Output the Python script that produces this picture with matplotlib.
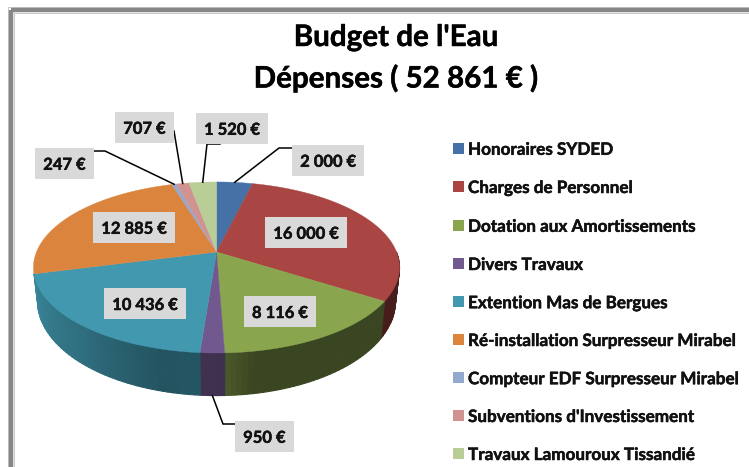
import matplotlib

matplotlib.use("Agg")
import matplotlib.pyplot as plt
import matplotlib.patheffects as pe
import numpy as np
from matplotlib.collections import PolyCollection
from matplotlib.patches import Polygon, Rectangle

plt.rcParams["font.family"] = ["Lato", "DejaVu Sans"]

categories = [
    "Honoraires SYDED",
    "Charges de Personnel",
    "Dotation aux Amortissements",
    "Divers Travaux",
    "Extention Mas de Bergues",
    "Ré-installation Surpresseur Mirabel",
    "Compteur EDF Surpresseur Mirabel",
    "Subventions d'Investissement",
    "Travaux Lamouroux Tissandié",
]
values = [2000, 16000, 8116, 950, 10436, 12885, 247, 707, 1520]
value_labels = ["2 000 €", "16 000 €", "8 116 €", "950 €", "10 436 €", "12 885 €", "247 €", "707 €", "1 520 €"]
colors = ["#4571a6", "#a94543", "#89a54e", "#71588f", "#4198af", "#db843d", "#93a9cf", "#d19392", "#b9cd96"]

# label box centre and width in pixels, None when the slice has no leader line
box_centres = [(328, 160.3), (306, 232.3), (280, 311.5), (264.3, 436.3), (145, 303.5), (134, 227.3), (64.3, 163.3), (144.3, 127.3), (232, 128.3)]
box_widths = [72, 82, 72, 59, 82, 82, 59, 59, 72]
leader_bends = [
    [(279, 148), (292, 148)],
    None,
    None,
    [(223, 424), (235, 424)],
    None,
    None,
    [(105, 151), (94, 151)],
    [(174, 131)],
    [(207, 144), (220, 144)],
]
legend_y = [148.3, 186.5, 225.3, 263.5, 301.7, 339.5, 377.7, 415.5, 453.5]

# perspective of the disc, in pixels
CX = 216.5
CY = 252
TILT = 0.181

# the reference text is a little heavier than Lato Bold
HEAVY = [pe.withStroke(linewidth=0.35, foreground="#111111")]


def top_point(angle):
    # angle clockwise from 12 o'clock
    u, v = np.sin(angle), np.cos(angle)
    w = 1 + TILT * v
    return CX + 180 * u / w, CY - 82.7 * v / w


def bottom_point(angle):
    u, v = np.sin(angle), np.cos(angle)
    w = 1 + TILT * v
    return CX + 176 * u / w, 284 - 91.4 * v / w


def wall_shade(angle):
    deg = np.degrees(angle)
    return np.interp(deg, [90, 125, 170, 178, 187, 195, 220, 256], [0.44, 0.42, 0.42, 0.55, 0.56, 0.55, 0.72, 0.88])


fig = plt.figure(figsize=(7.49, 4.67), dpi=100)
ax = fig.add_axes([0, 0, 1, 1])
ax.set_xlim(0, 749)
ax.set_ylim(467, 0)
ax.axis("off")

# frame around the chart, only its top and left show
ax.add_patch(Rectangle((7.5, 7), 760, 480, facecolor="none", edgecolor="#c8c8c8", linewidth=0.7, zorder=0))
ax.add_patch(Rectangle((14, 13), 760, 480, facecolor="none", edgecolor="#c8c8c8", linewidth=0.7, zorder=0))
ax.add_patch(Rectangle((11.2, 10.2), 760, 480, facecolor="none", edgecolor="#868686", linewidth=3.2, zorder=1))

edges = np.cumsum([0] + values) / sum(values) * 2 * np.pi
wall_end = edges[5]

# side wall, front part only
for i, color in enumerate(colors):
    a0, a1 = max(edges[i], np.pi / 2), min(edges[i + 1], wall_end)
    if a0 >= a1:
        continue
    steps = np.linspace(a0, a1, max(2, int((a1 - a0) * 40)))
    quads = []
    quad_colors = []
    for s0, s1 in zip(steps[:-1], steps[1:]):
        quads.append([top_point(s0), top_point(s1), bottom_point(s1), bottom_point(s0)])
        quad_colors.append(np.array(matplotlib.colors.to_rgb(color)) * wall_shade((s0 + s1) / 2))
    ax.add_collection(PolyCollection(quads, facecolors=quad_colors, edgecolors=quad_colors, linewidths=0.8, zorder=2))

# top of the pie
for i, color in enumerate(colors):
    arc = np.linspace(edges[i], edges[i + 1], max(3, int((edges[i + 1] - edges[i]) * 80)))
    pts = [(CX, CY)] + [top_point(a) for a in arc]
    ax.add_patch(Polygon(pts, closed=True, facecolor=color, edgecolor=color, linewidth=0.3, zorder=3))

# leader lines and value labels
for i, label in enumerate(value_labels):
    mid = (edges[i] + edges[i + 1]) / 2
    if leader_bends[i] is not None:
        start = bottom_point(mid) if np.pi / 2 < mid < 3 * np.pi / 2 else top_point(mid)
        xs, ys = zip(start, *leader_bends[i])
        ax.plot(xs, ys, color="black", linewidth=1.1, solid_joinstyle="miter", zorder=4)
    bx, by = box_centres[i]
    width = box_widths[i]
    ax.add_patch(Rectangle((bx - width / 2, by - 15.5), width, 31, facecolor="#d9d9d9", edgecolor="none", zorder=5))
    ax.text(bx, by + 1.5, label, fontsize=11.9, fontweight="bold", color="#111111", ha="center", va="center", zorder=6, path_effects=HEAVY)

# legend
for name, color, y in zip(categories, colors, legend_y):
    ax.add_patch(Rectangle((453, y - 5.5), 11, 11, facecolor=color, edgecolor="none", zorder=3))
    ax.text(468, y + 1.5, name, fontsize=12.3, fontweight="bold", color="#111111", ha="left", va="center", zorder=3, path_effects=HEAVY)

ax.text(396, 37, "Budget de l'Eau", fontsize=21.3, fontweight="bold", color="black", ha="center", va="center", path_effects=HEAVY)
ax.text(396, 78, "Dépenses ( 52 861 € )", fontsize=21.3, fontweight="bold", color="black", ha="center", va="center", path_effects=HEAVY)

fig.savefig("out.png", dpi=100, facecolor="white")
